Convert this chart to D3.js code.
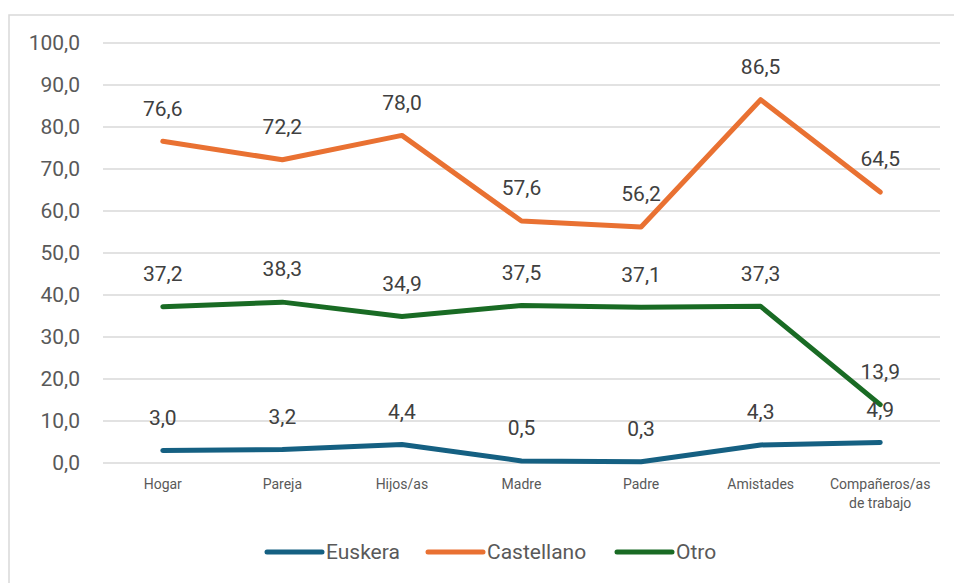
<!DOCTYPE html>
<html>
<head>
<meta charset="utf-8">
<script src="https://d3js.org/d3.v7.min.js"></script>
<style>
  body { margin: 0; background: #fff; }
  text { font-family: Roboto, "Liberation Sans", sans-serif; }
</style>
</head>
<body>
<svg width="954" height="583"></svg>
<script>
var categories = ["Hogar", "Pareja", "Hijos/as", "Madre", "Padre", "Amistades", "Compañeros/as de trabajo"];
var euskera = [3.0, 3.2, 4.4, 0.5, 0.3, 4.3, 4.9];
var castellano = [76.6, 72.2, 78.0, 57.6, 56.2, 86.5, 64.5];
var otro = [37.2, 38.3, 34.9, 37.5, 37.1, 37.3, 13.9];
var yTicks = [0, 10, 20, 30, 40, 50, 60, 70, 80, 90, 100];

var series = [
  { name: "Euskera", values: euskera, color: "#156082" },
  { name: "Castellano", values: castellano, color: "#E97132" },
  { name: "Otro", values: otro, color: "#196B24" }
];

var svg = d3.select("svg");

// chart frame
svg.append("rect")
  .attr("x", 9).attr("y", 15)
  .attr("width", 960).attr("height", 600)
  .attr("fill", "none")
  .attr("stroke", "#d9d9d9")
  .attr("stroke-width", 1.5);

var x = d3.scalePoint().domain(categories).range([103, 940]).padding(0.5);
var y = d3.scaleLinear().domain([0, 100]).range([463, 43]);

var fmt = function(v) { return d3.format(".1f")(v).replace(".", ","); };

// gridlines
svg.append("g").selectAll("line")
  .data(yTicks).enter().append("line")
  .attr("x1", 103).attr("x2", 940)
  .attr("y1", function(d) { return y(d); })
  .attr("y2", function(d) { return y(d); })
  .attr("stroke", "#d9d9d9")
  .attr("stroke-width", 1.5);

// y axis labels
svg.append("g").selectAll("text")
  .data(yTicks).enter().append("text")
  .attr("x", 80)
  .attr("y", function(d) { return y(d); })
  .attr("dy", "0.35em")
  .attr("text-anchor", "end")
  .attr("font-size", 21)
  .attr("fill", "#595959")
  .text(fmt);

// x axis labels
var xl = svg.append("g").selectAll("text")
  .data(categories).enter().append("text")
  .attr("text-anchor", "middle")
  .attr("font-size", 14)
  .attr("fill", "#595959");
xl.each(function(d) {
  var t = d3.select(this);
  var lines = d === "Compañeros/as de trabajo" ? ["Compañeros/as", "de trabajo"] : [d];
  lines.forEach(function(l, i) {
    t.append("tspan")
      .attr("x", x(d))
      .attr("y", 489 + i * 19)
      .text(l);
  });
});

var line = d3.line()
  .x(function(d, i) { return x(categories[i]); })
  .y(function(d) { return y(d); });

series.forEach(function(s) {
  svg.append("path")
    .datum(s.values)
    .attr("d", line)
    .attr("fill", "none")
    .attr("stroke", s.color)
    .attr("stroke-width", 5)
    .attr("stroke-linecap", "round")
    .attr("stroke-linejoin", "round");
});

series.forEach(function(s) {
  svg.append("g").selectAll("text")
    .data(s.values).enter().append("text")
    .attr("x", function(d, i) { return x(categories[i]); })
    .attr("y", function(d) { return y(d) - 33; })
    .attr("dy", "0.35em")
    .attr("text-anchor", "middle")
    .attr("font-size", 21)
    .attr("fill", "#404040")
    .text(fmt);
});

// legend
var legendX = [267, 428, 617];
var lg = svg.append("g").selectAll("g")
  .data(series).enter().append("g")
  .attr("transform", function(d, i) { return "translate(" + legendX[i] + ",552)"; });
lg.append("line")
  .attr("x1", 0).attr("x2", 55)
  .attr("stroke", function(d) { return d.color; })
  .attr("stroke-width", 5)
  .attr("stroke-linecap", "round");
lg.append("text")
  .attr("x", 59)
  .attr("dy", "0.35em")
  .attr("font-size", 21)
  .attr("fill", "#595959")
  .text(function(d) { return d.name; });
</script>
</body>
</html>
